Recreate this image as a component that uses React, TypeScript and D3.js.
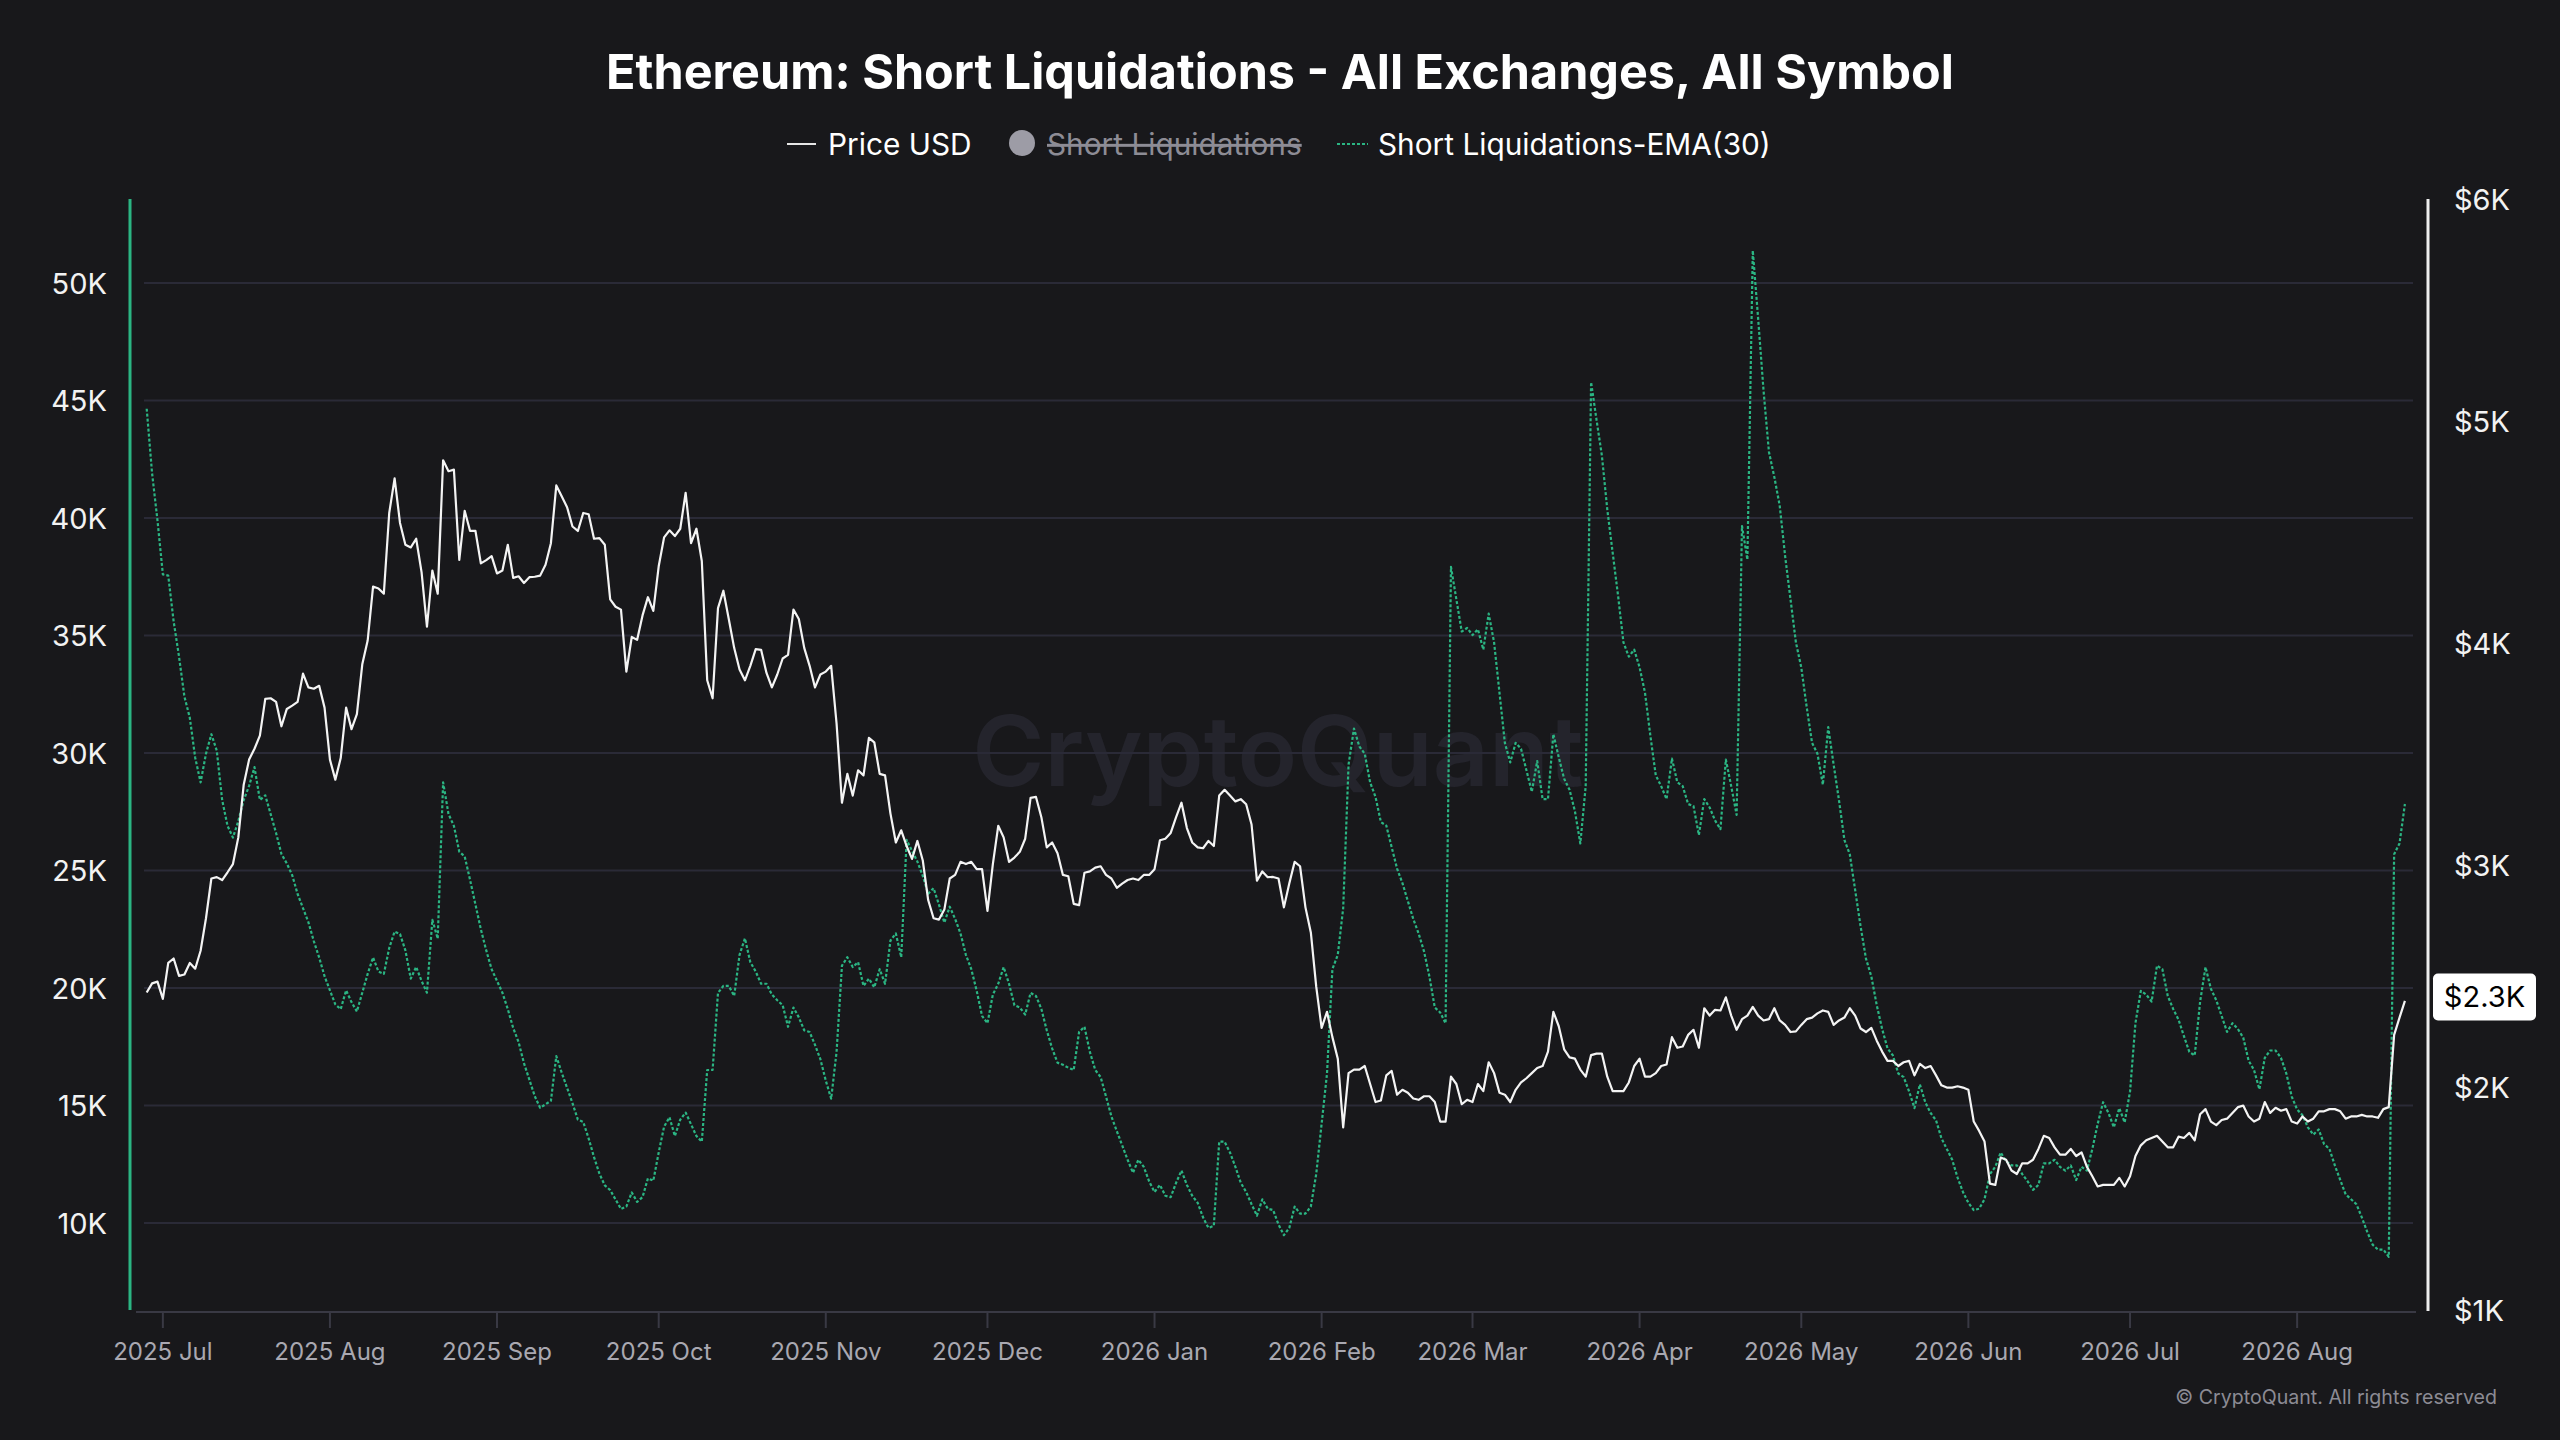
import { useMemo } from 'react';
import * as d3 from 'd3';

// daily values, first point = 2025-06-28 (UTC)
const startDate = Date.UTC(2025, 5, 28);

const priceUsd = [
  2429, 2470, 2478, 2400, 2562, 2582, 2504, 2510, 2562, 2536, 2617, 2763, 2942, 2948, 2935, 2970, 3007, 3127, 3364, 3477,
  3526, 3585, 3750, 3753, 3737, 3627, 3705, 3720, 3737, 3864, 3802, 3796, 3809, 3711, 3477, 3387, 3484, 3711, 3614, 3682,
  3906, 4013, 4256, 4247, 4224, 4587, 4743, 4542, 4444, 4432, 4471, 4321, 4075, 4328, 4224, 4824, 4775, 4782, 4376, 4597,
  4506, 4506, 4360, 4375, 4393, 4315, 4328, 4444, 4295, 4302, 4272, 4298, 4300, 4305, 4354, 4451, 4711, 4662, 4613, 4526,
  4506, 4587, 4581, 4471, 4474, 4444, 4198, 4165, 4152, 3873, 4029, 4016, 4126, 4208, 4146, 4347, 4477, 4509, 4483, 4516,
  4678, 4451, 4516,
  4370, 3834, 3753, 4159, 4237, 4110, 3980, 3883, 3834, 3899, 3974, 3971, 3867, 3802, 3860, 3932, 3948, 4152, 4110, 3980,
  3899, 3802, 3860, 3873, 3899, 3640, 3283, 3413, 3315, 3429, 3406, 3575, 3555, 3413, 3406, 3234, 3104, 3159, 3088, 3030,
  3111, 3023, 2845, 2763, 2757, 2802, 2942, 2958, 3017, 3007, 3017, 2984, 2984, 2796, 3007, 3179, 3127, 3017, 3036, 3062,
  3121, 3305, 3309, 3218, 3082, 3104, 3056, 2958, 2952, 2828, 2822, 2968, 2974, 2991, 2997, 2958, 2942, 2900, 2919, 2935,
  2942, 2935, 2958, 2958, 2984, 3114, 3121, 3147, 3218, 3283, 3169, 3104, 3082, 3078, 3111, 3088, 3315, 3341, 3315, 3289,
  3299, 3276, 3185, 2932, 2974, 2948,
  2949, 2942, 2812, 2919, 3017, 2997, 2812, 2699, 2455, 2270, 2342, 2228, 2131, 1822, 2066, 2082, 2082, 2098, 2017, 1936,
  1943, 2056, 2076, 1969, 1991, 1978, 1952, 1946, 1962, 1962, 1936, 1848, 1848, 2050, 2017, 1926, 1946, 1936, 2017, 1985,
  2115, 2066, 1978, 1969, 1936, 1991, 2024, 2043, 2066, 2089, 2098, 2163, 2342, 2277, 2173, 2137, 2131, 2082, 2050, 2147,
  2154, 2154, 2050, 1985, 1985, 1985, 2024, 2098, 2131, 2050, 2050, 2066, 2098, 2105, 2228, 2180, 2186, 2238, 2261, 2180,
  2358, 2325, 2351, 2348, 2407, 2325, 2261, 2309, 2325, 2364, 2325, 2303, 2309, 2358, 2303, 2283, 2251, 2254, 2283, 2309,
  2316, 2335, 2348, 2342, 2283,
  2303, 2316, 2358, 2325, 2267, 2251, 2270, 2212, 2163, 2121, 2121, 2098, 2115, 2121, 2056, 2108, 2089, 2098, 2056, 2011,
  2001, 2001, 2007, 2001, 1991, 1848, 1806, 1758, 1569, 1563, 1686, 1676, 1628, 1612, 1660, 1660, 1676, 1725, 1784, 1774,
  1732, 1699, 1699, 1725, 1693, 1709, 1644, 1602, 1556, 1563, 1563, 1563, 1595, 1556, 1602, 1693, 1741, 1764, 1774, 1784,
  1758, 1732, 1732, 1780, 1774, 1797, 1764, 1881, 1904, 1848, 1832, 1855, 1861, 1887, 1913, 1920, 1871, 1848, 1861, 1936,
  1887, 1910, 1897, 1904, 1848, 1839, 1871, 1848, 1861, 1894, 1894, 1904, 1904, 1894, 1861, 1871, 1871, 1878, 1871, 1871,
  1865, 1904, 1913, 2238, 2316, 2391,
];

// Short Liquidations EMA(30), in thousands
const shortLiqEmaK = [
  44.65, 41.9, 39.9, 37.6, 37.55, 35.6, 34.1, 32.4, 31.5, 29.8, 28.75, 29.97, 30.8, 30.1, 28.0, 26.9, 26.4, 27.1, 28.0, 28.6,
  29.4, 28.0, 28.2, 27.4, 26.6, 25.7, 25.3, 24.8, 24.0, 23.4, 22.8, 22.0, 21.3, 20.5, 19.9, 19.3, 19.1, 19.9, 19.4, 19.0,
  19.8, 20.6, 21.3, 20.7, 20.6, 21.7, 22.4, 22.3, 21.6, 20.4, 20.9, 20.3, 19.8, 22.9, 22.1, 28.75, 27.4, 26.9, 25.8, 25.6,
  24.6, 23.55, 22.5, 21.6, 20.8, 20.3, 19.8, 19.1, 18.3, 17.7, 16.8, 16.1, 15.4, 14.9, 15.05, 15.2, 17.1, 16.4, 15.75, 15.1,
  14.4, 14.3, 13.6, 12.8, 12.1, 11.6, 11.4, 11.0, 10.6, 10.7, 11.3, 10.9, 11.1, 11.9, 11.8, 13.0, 14.1, 14.5, 13.7, 14.4,
  14.7, 14.2, 13.7,
  13.46, 16.51, 16.51, 19.79, 20.09, 20.09, 19.66, 21.41, 22.11, 21.1, 20.7, 20.18, 20.18, 19.72, 19.48, 19.27, 18.35, 19.17, 18.75, 18.2,
  18.13, 17.58, 16.97, 16.06, 15.29, 17.28, 20.95, 21.31, 20.89, 21.1, 20.09, 20.4, 20.03, 20.8, 20.18, 22.02, 22.32, 21.31, 26.3, 25.84,
  25.38, 24.77, 24.01, 24.25, 23.55, 22.78, 23.46, 22.94, 22.32, 21.41, 20.8, 19.88, 18.81, 18.5, 19.72, 20.18, 20.89, 20.18, 19.27, 19.17,
  18.87, 19.79, 19.66, 19.11, 18.2, 17.43, 16.82, 16.73, 16.61, 16.51, 18.13, 18.35, 17.28, 16.51, 16.21, 15.38, 14.53, 13.91, 13.3, 12.69,
  12.14, 12.69, 12.39, 11.77, 11.32, 11.62, 11.16, 11.1, 11.71, 12.23, 11.62, 11.16, 10.86, 10.24, 9.79, 9.88, 13.46, 13.46, 13.0, 12.39,
  11.71, 11.32, 10.8, 10.31, 11.01, 10.61,
  10.55, 9.94, 9.48, 9.79, 10.7, 10.4, 10.4, 10.7, 12.08, 14.22, 16.36, 20.8, 21.41, 23.39, 29.51, 31.04, 30.28, 29.97, 28.75, 28.13,
  27.06, 26.91, 25.99, 25.08, 24.46, 23.7, 22.94, 22.32, 21.56, 20.49, 19.17, 18.96, 18.5, 37.92, 36.54, 35.17, 35.32, 35.02, 35.26, 34.4,
  35.93, 34.71, 32.57, 30.43, 29.6, 30.43, 30.18, 29.27, 28.35, 29.66, 28.04, 28.04, 30.8, 29.82, 28.9, 28.44, 27.52, 26.15, 28.59, 45.78,
  44.19, 42.66, 40.37, 38.53, 36.7, 34.71, 34.1, 34.4, 33.64, 32.57, 30.73, 29.05, 28.59, 28.04, 29.76, 28.75, 28.59, 27.83, 27.74, 26.51,
  28.04, 27.68, 27.13, 26.76, 29.72, 28.59, 27.37, 39.66, 38.23, 51.38, 48.47, 45.41, 42.81, 41.74, 40.52, 38.38, 36.54, 34.71, 33.64, 31.96,
  30.43, 29.97, 28.65, 31.1, 29.51,
  27.98, 26.3, 25.69, 24.16, 22.63, 21.25, 20.49, 19.27, 18.26, 17.43, 17.13, 16.36, 16.21, 15.6, 14.89, 15.9, 15.14, 14.68, 14.37, 13.61,
  13.15, 12.69, 11.93, 11.32, 10.86, 10.55, 10.61, 11.01, 12.08, 12.39, 13.0, 12.63, 12.45, 12.45, 12.08, 11.77, 11.41, 11.62, 12.54, 12.54,
  12.69, 12.39, 12.23, 12.45, 11.83, 12.39, 12.23, 13.15, 14.22, 15.14, 14.68, 14.07, 14.89, 14.28, 15.6, 18.5, 19.88, 19.72, 19.42, 20.95,
  20.8, 19.66, 19.11, 18.65, 17.95, 17.28, 17.13, 19.42, 20.89, 19.97, 19.48, 18.81, 18.13, 18.5, 18.26, 17.89, 16.91, 16.51, 15.69, 17.03,
  17.34, 17.34, 17.03, 16.36, 15.38, 14.83, 14.59, 14.07, 13.76, 13.98, 13.36, 13.15, 12.45, 11.83, 11.22, 11.01, 10.8, 10.24, 9.63, 9.08,
  8.87, 8.87, 8.56, 25.69, 26.15, 27.83,
];

const leftTicks = [10, 15, 20, 25, 30, 35, 40, 45, 50];
const rightTicks = [1000, 2000, 3000, 4000, 5000, 6000];
const lastPriceLabel = '$2.3K';
const titleText = 'Ethereum: Short Liquidations - All Exchanges, All Symbol';
const legendLabels = ['Price USD', 'Short Liquidations', 'Short Liquidations-EMA(30)'];

const W = 2560;
const H = 1440;
const BG = '#18181b';
const GREEN = '#2bb583';
const FONT = "Inter, 'Noto Sans', sans-serif";
const plot = { left: 144, right: 2413, top: 199, bottom: 1310 };

const App = () => {
  const x = useMemo(
    () =>
      d3
        .scaleUtc()
        .domain([new Date(Date.UTC(2025, 5, 27, 12)), new Date(Date.UTC(2026, 7, 22, 12))])
        .range([plot.left, plot.right]),
    [],
  );
  const yLeft = useMemo(() => d3.scaleLinear().domain([10, 50]).range([1223, 283]), []);
  const yRight = useMemo(() => d3.scaleLinear().domain([1000, 6000]).range([plot.bottom, plot.top]), []);

  const dateAt = (i: number) => new Date(startDate + i * 864e5);

  const priceLine = d3
    .line<number>()
    .x((_, i) => x(dateAt(i)))
    .y((d) => yRight(d));
  const emaLine = d3
    .line<number>()
    .x((_, i) => x(dateAt(i)))
    .y((d) => yLeft(d));

  const months = x.ticks(d3.utcMonth.every(1)!);
  const fmtMonth = d3.utcFormat('%Y %b');
  // badge sits a touch above the final point, as in the original
  const badgeY = yRight(priceUsd[priceUsd.length - 1]) - 4;

  return (
    <div style={{ position: 'absolute', left: 0, top: 0, width: W, height: H, background: BG }}>
      <svg width={W} height={H} style={{ display: 'block', fontFamily: FONT }}>
        <rect width={W} height={H} fill={BG} />

        {/* watermark */}
        <text
          x={1278}
          y={750}
          textAnchor="middle"
          dominantBaseline="central"
          fontSize={98}
          fontWeight={600}
          fill="#24242c"
        >
          CryptoQuant
        </text>

        {/* title */}
        <text x={W / 2} y={89} textAnchor="middle" fontSize={48.5} fontWeight={700} fill="#ffffff">
          {titleText}
        </text>

        {/* legend */}
        <g fontSize={29.8} dominantBaseline="central">
          <line x1={787} x2={816} y1={144} y2={144} stroke="#e6e6e6" strokeWidth={2} />
          <text x={828} y={144} fill="#ffffff">
            {legendLabels[0]}
          </text>
          <circle cx={1022} cy={143} r={13} fill="#9d9ca6" />
          <text x={1047} y={144} fill="#8d8c95" style={{ textDecoration: 'line-through' }}>
            {legendLabels[1]}
          </text>
          <line x1={1337} x2={1368} y1={144} y2={144} stroke={GREEN} strokeWidth={2} strokeDasharray="3 2" />
          <text x={1378} y={144} fill="#ffffff">
            {legendLabels[2]}
          </text>
        </g>

        {/* grid */}
        {leftTicks.map((t) => (
          <line
            key={t}
            x1={plot.left}
            x2={plot.right}
            y1={yLeft(t)}
            y2={yLeft(t)}
            stroke="#2a2a37"
            strokeWidth={2}
          />
        ))}

        {/* left axis */}
        <line x1={130} x2={130} y1={plot.top} y2={plot.bottom} stroke={GREEN} strokeWidth={3} />
        {leftTicks.map((t) => (
          <text
            key={t}
            x={107}
            y={yLeft(t)}
            textAnchor="end"
            dominantBaseline="central"
            fontSize={29}
            fill="#f2f2f2"
          >
            {`${t}K`}
          </text>
        ))}

        {/* right axis */}
        <line x1={2428} x2={2428} y1={plot.top} y2={plot.bottom + 1} stroke="#ededed" strokeWidth={3} />
        {rightTicks.map((t) => (
          <text
            key={t}
            x={2454}
            y={yRight(t)}
            dominantBaseline="central"
            fontSize={29}
            fill="#f2f2f2"
          >
            {`$${t / 1000}K`}
          </text>
        ))}

        {/* bottom axis */}
        <line x1={136} x2={2416} y1={1312} y2={1312} stroke="#393944" strokeWidth={2} />
        {months.map((m) => (
          <g key={m.getTime()}>
            <line x1={x(m)} x2={x(m)} y1={1312} y2={1328} stroke="#393944" strokeWidth={2} />
            <text x={x(m)} y={1351} textAnchor="middle" dominantBaseline="central" fontSize={24} fill="#a9a8b1">
              {fmtMonth(m)}
            </text>
          </g>
        ))}

        {/* series */}
        <path
          d={emaLine(shortLiqEmaK)!}
          fill="none"
          stroke={GREEN}
          strokeWidth={2.2}
          strokeDasharray="3 2"
          strokeLinejoin="round"
        />
        <path d={priceLine(priceUsd)!} fill="none" stroke="#f4f4f4" strokeWidth={2.2} strokeLinejoin="round" />

        {/* last price badge */}
        <rect x={2433} y={badgeY - 23.5} width={103} height={47} rx={5} fill="#ffffff" />
        <text
          x={2484.5}
          y={badgeY}
          textAnchor="middle"
          dominantBaseline="central"
          fontSize={29}
          fill="#000000"
        >
          {lastPriceLabel}
        </text>

        {/* credits */}
        <text x={2497} y={1397} textAnchor="end" dominantBaseline="central" fontSize={19.6} fill="#8c8b94">
          © CryptoQuant. All rights reserved
        </text>
      </svg>
    </div>
  );
};

export default App;
